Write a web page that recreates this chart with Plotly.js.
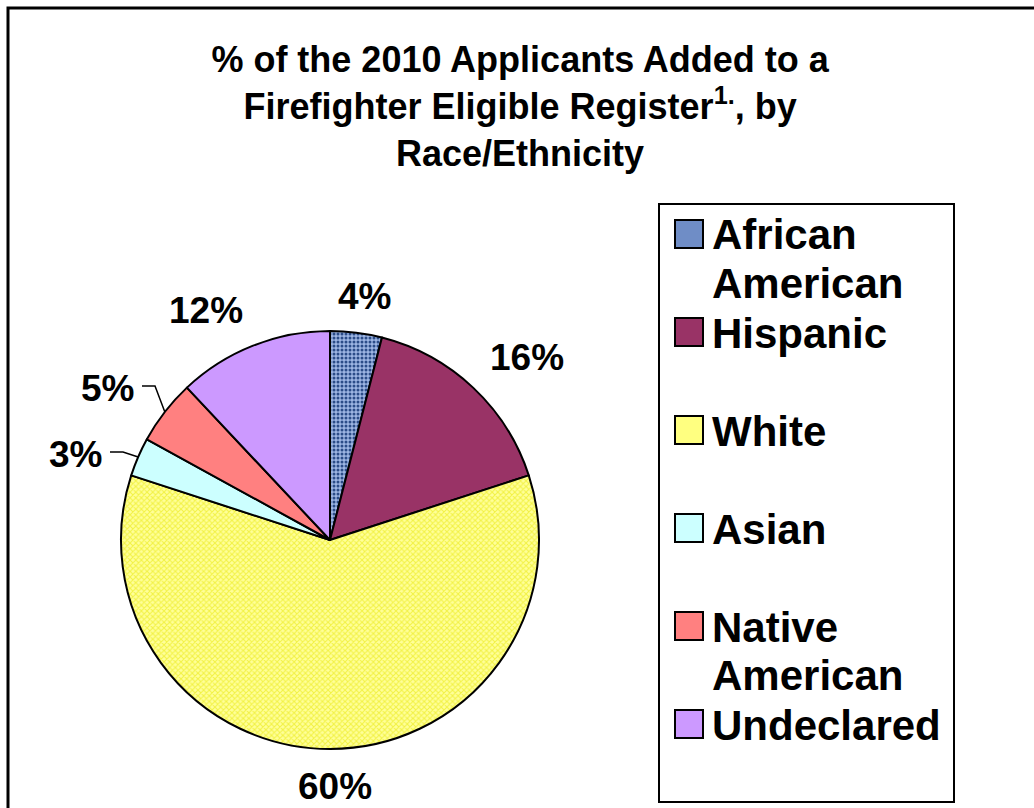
<!DOCTYPE html>
<html>
<head>
<meta charset="utf-8">
<script src="https://cdn.plot.ly/plotly-3.0.1.min.js"></script>
<style>
  html, body { margin: 0; padding: 0; background: #ffffff; }
  #chart { width: 1034px; height: 808px; }
</style>
</head>
<body>
<div id="chart"></div>
<script>
// ---- data ----
const categories = ['African American', 'Hispanic', 'White', 'Asian', 'Native American', 'Undeclared'];
const values = [4, 16, 60, 3, 5, 12];
const legendLines = [['African', 'American'], ['Hispanic'], ['White'], ['Asian'], ['Native', 'American'], ['Undeclared']];
const sliceColors = ['#9DB5E3', '#993366', '#FFFF99', '#CCFFFF', '#FF8080', '#CC99FF'];
const patternShapes = ['.', '', 'x', '', '', ''];
const patternColors = ['#2B4C88', '#993366', '#F2F244', '#CCFFFF', '#FF8080', '#CC99FF'];
const titleText = '% of the 2010 Applicants Added to a<br>Firefighter Eligible Register<sup>1.</sup>, by<br>Race/Ethnicity';

// ---- layout geometry (pixels) ----
const W = 1034, H = 808;
const CX = 330, CY = 540, R = 209;
const FONT = 'Liberation Sans, Arial, Helvetica, sans-serif';
const px = x => x / W;
const py = y => 1 - y / H;

const total = values.reduce((a, b) => a + b, 0);
const pctText = values.map(v => Math.round(100 * v / total) + '%');

// mid angles (clockwise from 12 o'clock)
let cum = 0;
const mids = values.map(v => { const m = 2 * Math.PI * (cum + v / 2) / total; cum += v; return m; });

const annotations = [];
const shapes = [];

// leader-line labels: label right edge / centre y (layout choice)
const leaderLabels = { 'Asian': { x: 104, y: 452 }, 'Native American': { x: 136, y: 386 } };

categories.forEach((c, i) => {
  const th = mids[i];
  const s = Math.sin(th), co = Math.cos(th);
  if (leaderLabels[c]) {
    const L = leaderLabels[c];
    const ex = CX + R * s, ey = CY - R * co;
    shapes.push({
      type: 'path', xref: 'paper', yref: 'paper',
      path: `M${px(L.x + 6)},${py(L.y)} L${px(L.x + 19)},${py(L.y)} L${px(ex)},${py(ey)}`,
      line: { color: '#000', width: 1.5 }
    });
    annotations.push({
      xref: 'paper', yref: 'paper', x: px(L.x), y: py(L.y + 2), xanchor: 'right', yanchor: 'middle',
      text: pctText[i], showarrow: false, font: { family: FONT, size: 37, color: '#000', weight: 700 }
    });
  } else {
    const d = R + 24;
    let x = CX + d * s, y = CY - d * co;
    const xa = s > 0.3 ? 'left' : (s < -0.3 ? 'right' : 'center');
    let ya = co > 0.3 ? 'bottom' : (co < -0.3 ? 'top' : 'middle');
    if (ya === 'bottom') y += 9;
    if (ya === 'top') y -= 8;
    if (xa === 'center') x += 5 * Math.sign(s);
    annotations.push({
      xref: 'paper', yref: 'paper', x: px(x), y: py(y), xanchor: xa, yanchor: ya,
      text: pctText[i], showarrow: false, borderpad: 0,
      font: { family: FONT, size: 37, color: '#000', weight: 700 }
    });
  }
});

// ---- manual legend (large swatches) ----
shapes.push({ type: 'rect', xref: 'paper', yref: 'paper',
  x0: px(659), x1: px(954), y0: py(204), y1: py(802),
  line: { color: '#000', width: 2 }, fillcolor: 'rgba(0,0,0,0)' });
categories.forEach((c, i) => {
  const yc = 234 + 98 * i;
  shapes.push({ type: 'rect', xref: 'paper', yref: 'paper',
    x0: px(675), x1: px(703), y0: py(yc - 14), y1: py(yc + 14),
    line: { color: '#000', width: 2 }, fillcolor: i === 0 ? '#6F8DC6' : (i === 2 ? '#FFFF80' : sliceColors[i]) });
  legendLines[i].forEach((t, k) => {
    annotations.push({ xref: 'paper', yref: 'paper', x: px(710), y: py(yc + 48 * k + 1),
      xanchor: 'left', yanchor: 'middle', text: t, showarrow: false,
      font: { family: FONT, size: 42, color: '#000', weight: 700 } });
  });
});

// outer chart border
shapes.push({ type: 'rect', xref: 'paper', yref: 'paper',
  x0: px(8), x1: px(1045), y0: py(8), y1: py(820),
  line: { color: '#000', width: 3 }, fillcolor: 'rgba(0,0,0,0)' });

const trace = {
  type: 'pie',
  labels: categories,
  values: values,
  sort: false,
  direction: 'clockwise',
  rotation: 0,
  textinfo: 'none',
  hoverinfo: 'label+percent',
  showlegend: false,
  marker: {
    colors: sliceColors,
    line: { color: '#000000', width: 2 },
    pattern: { shape: patternShapes, fgcolor: patternColors, bgcolor: sliceColors,
               size: 4, solidity: 0.45, fillmode: 'replace' }
  },
  domain: { x: [px(CX - R), px(CX + R)], y: [py(CY + R), py(CY - R)] }
};

const layout = {
  width: W, height: H,
  margin: { l: 0, r: 0, t: 0, b: 0 },
  paper_bgcolor: '#ffffff',
  plot_bgcolor: '#ffffff',
  showlegend: false,
  title: {
    text: titleText,
    x: 0.503, xanchor: 'center',
    xref: 'paper',
    yref: 'container', y: 1 - 72 / H, yanchor: 'top',
    font: { family: FONT, size: 36, color: '#000', weight: 700 }
  },
  annotations: annotations,
  shapes: shapes
};

Plotly.newPlot('chart', [trace], layout, { displayModeBar: false, staticPlot: true });
</script>
</body>
</html>
